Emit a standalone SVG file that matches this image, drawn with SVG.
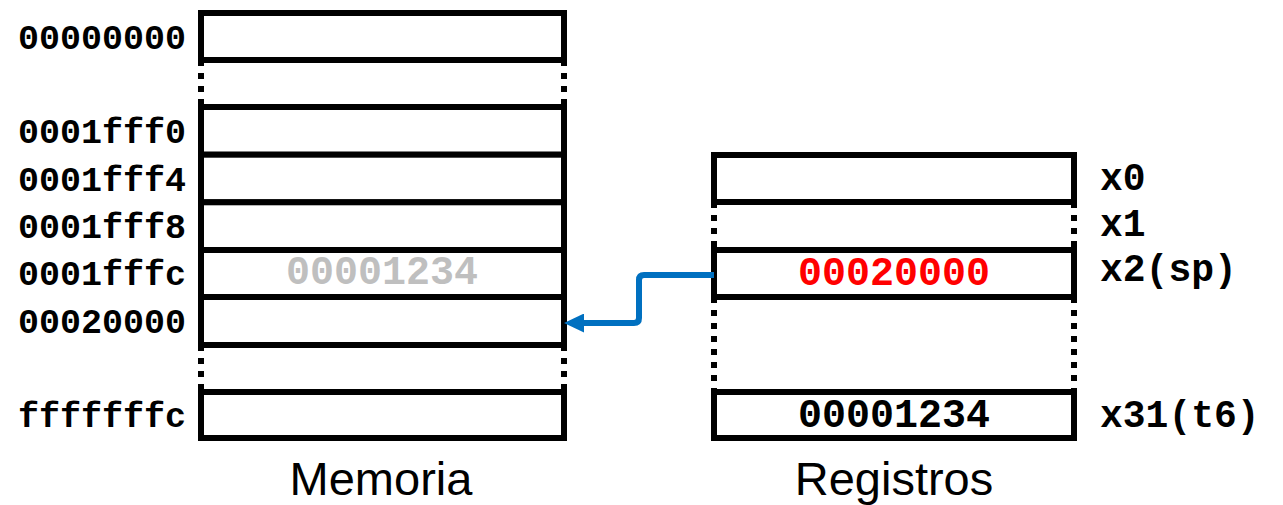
<svg xmlns="http://www.w3.org/2000/svg" width="1283" height="505" viewBox="0 0 1283 505">
  <style>
    .cell { fill: #ffffff; stroke: #000000; stroke-width: 6; }
    .dots { stroke: #000000; stroke-width: 6; stroke-dasharray: 6 7; fill: none; }
    .addr { font-family: "Liberation Mono", "Courier New", monospace; font-weight: bold; font-size: 35px; fill: #000000; text-anchor: end; }
    .reg { font-family: "Liberation Mono", "Courier New", monospace; font-weight: bold; font-size: 38px; fill: #000000; }
    .val { font-family: "Liberation Mono", "Courier New", monospace; font-weight: bold; font-size: 40px; text-anchor: middle; }
    .title { font-family: "Liberation Sans", Arial, sans-serif; font-size: 47px; fill: #000000; text-anchor: middle; }
  </style>
  <defs>
    <marker id="arrow" viewBox="0 0 20 19" refX="10" refY="9.5" markerWidth="20" markerHeight="19" markerUnits="userSpaceOnUse" orient="auto">
      <path d="M0,0 L20,9.5 L0,19 z" fill="#0070C0"/>
    </marker>
  </defs>

  <!-- Memory -->
  <g id="memory">
    <g id="mem-00000000">
      <rect class="cell" x="201" y="13" width="363" height="47"/>
      <text class="addr" x="186" y="49">00000000</text>
    </g>
    <g id="mem-gap1">
      <line class="dots" x1="201" y1="60" x2="201" y2="107"/>
      <line class="dots" x1="564" y1="60" x2="564" y2="107"/>
    </g>
    <g id="mem-0001fff0">
      <rect class="cell" x="201" y="107" width="363" height="47.7"/>
      <text class="addr" x="186" y="143">0001fff0</text>
    </g>
    <g id="mem-0001fff4">
      <rect class="cell" x="201" y="154.7" width="363" height="47.6"/>
      <text class="addr" x="186" y="191">0001fff4</text>
    </g>
    <g id="mem-0001fff8">
      <rect class="cell" x="201" y="202.3" width="363" height="47.7"/>
      <text class="addr" x="186" y="238">0001fff8</text>
    </g>
    <g id="mem-0001fffc">
      <rect class="cell" x="201" y="250" width="363" height="47"/>
      <text class="addr" x="186" y="285">0001fffc</text>
      <text class="val" x="382" y="284" fill="#BFBFBF">00001234</text>
    </g>
    <g id="mem-00020000">
      <rect class="cell" x="201" y="297" width="363" height="48"/>
      <text class="addr" x="186" y="333">00020000</text>
    </g>
    <g id="mem-gap2">
      <line class="dots" x1="201" y1="345" x2="201" y2="392"/>
      <line class="dots" x1="564" y1="345" x2="564" y2="392"/>
    </g>
    <g id="mem-fffffffc">
      <rect class="cell" x="201" y="392" width="363" height="46"/>
      <text class="addr" x="186" y="427">fffffffc</text>
    </g>
    <text class="title" x="381" y="495">Memoria</text>
  </g>

  <!-- Registers -->
  <g id="registers">
    <g id="reg-x0">
      <rect class="cell" x="714" y="155" width="360" height="47"/>
      <text class="reg" x="1100" y="190">x0</text>
    </g>
    <g id="reg-x1">
      <line class="dots" x1="714" y1="202" x2="714" y2="250"/>
      <line class="dots" x1="1074" y1="202" x2="1074" y2="250"/>
      <text class="reg" x="1100" y="236">x1</text>
    </g>
    <g id="reg-x2">
      <rect class="cell" x="714" y="250" width="360" height="47"/>
      <text class="val" x="894" y="285" fill="#FF0000">00020000</text>
      <text class="reg" x="1100" y="281">x2(sp)</text>
    </g>
    <g id="reg-gap">
      <line class="dots" x1="714" y1="297" x2="714" y2="392"/>
      <line class="dots" x1="1074" y1="297" x2="1074" y2="392"/>
    </g>
    <g id="reg-x31">
      <rect class="cell" x="714" y="392" width="360" height="46"/>
      <text class="val" x="894" y="427" fill="#000000">00001234</text>
      <text class="reg" x="1100" y="427">x31(t6)</text>
    </g>
    <text class="title" x="894" y="495">Registros</text>
  </g>

  <!-- Connectors -->
  <g id="connectors">
    <path d="M714,275 H644 Q639,275 639,280 V318 Q639,323 634,323 H574" fill="none" stroke="#0070C0" stroke-width="6" marker-end="url(#arrow)"/>
  </g>
</svg>
